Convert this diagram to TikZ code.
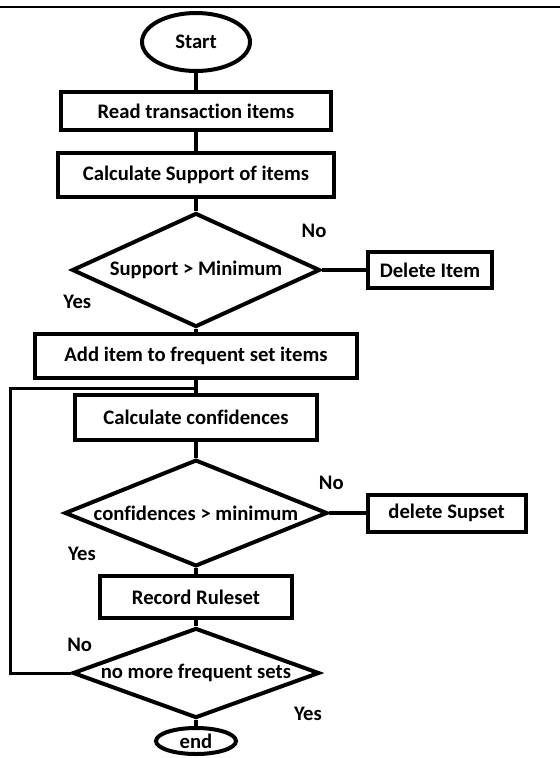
\documentclass[tikz,border=0pt]{standalone}
\usepackage{fontspec}
\setmainfont{Carlito}[Ligatures=NoCommon]
\usetikzlibrary{shapes.geometric, calc, positioning}

\begin{document}
\begin{tikzpicture}[node distance=48pt, x=1pt, y=1pt, font=\fontsize{15.5}{18}\selectfont\bfseries]
  % Define styles
  \tikzstyle{startstop} = [ellipse, draw=black, line width=3pt, inner sep=0pt, text centered]
  \tikzstyle{process} = [rectangle, draw=black, line width=3pt, inner sep=0pt, text centered]
  \tikzstyle{decision} = [diamond, draw=black, line width=3pt, inner sep=0pt, text centered]
  \tikzstyle{line} = [draw, line width=3pt]
  \tikzstyle{loopline} = [draw, line width=2.25pt]

  % Frame
  \useasboundingbox (0,0) rectangle (420,-568.5);
  \draw [line width=2pt] (0,-5.25) -- (420,-5.25);

  % Place nodes
  \node [startstop, minimum width=81pt, minimum height=43.5pt] (start) at (147,-31.5) {Start};
  \node [process, below of=start, yshift=-3.75pt, minimum width=202.5pt, minimum height=28.5pt] (readitems) {Read transaction items};
  \node [process, below of=readitems, minimum width=207pt, minimum height=33pt] (calcsupport) {Calculate Support of items};
  \node [decision, below of=calcsupport, yshift=-23.25pt, minimum width=186pt, minimum height=85.5pt, aspect=2.2] (checksupport) {Support > Minimum};
  \node [process, right of=checksupport, node distance=175.5pt, minimum width=93pt, minimum height=27pt] (deleteitem) {Delete Item};
  \node [process, below of=checksupport, yshift=-16.5pt, minimum width=241.5pt, minimum height=33pt] (additem) {Add item to frequent set items};
  \node [process, below of=additem, yshift=2.25pt, minimum width=181.5pt, minimum height=33.75pt] (calcconf) {Calculate confidences};
  \node [decision, below of=calcconf, yshift=-24pt, minimum width=197pt, minimum height=80pt, aspect=2.5] (checkconf) {confidences > minimum};
  \node [process, right of=checkconf, node distance=188pt, minimum width=118.5pt, minimum height=27.75pt] (deletesupset) {delete Supset};
  \node [process, below of=checkconf, yshift=-15pt, minimum width=144pt, minimum height=32pt] (recordrules) {Record Ruleset};
  \node [decision, below of=recordrules, yshift=-9pt, minimum width=185pt, minimum height=67.5pt, aspect=2.7] (checkmore) {no more frequent sets};
  \node [startstop, below of=checkmore, yshift=-3pt, minimum width=60pt, minimum height=19.5pt] (finish) {end};

  % Draw edges
  \path [line] (start) -- (readitems);
  \path [line] (readitems) -- (calcsupport);
  \path [line] (calcsupport) -- (checksupport);
  \path [line] (checksupport) -- node[pos=0, xshift=-6pt, yshift=29.25pt] {No} (deleteitem);
  \path [line] (checksupport) -- node[pos=0, xshift=-89pt, yshift=20pt] {Yes} (additem);
  \path [line] (additem) -- (calcconf);
  \path [line] (calcconf) -- (checkconf);
  \path [line] (checkconf) -- node[pos=0, xshift=1.5pt, yshift=22.5pt] {No} (deletesupset);
  \path [line] (checkconf) -- node[pos=0, xshift=-85.5pt, yshift=10.5pt] {Yes} (recordrules);
  \path [line] (recordrules) -- (checkmore);
  \path [line] (checkmore) -- node[pos=0, xshift=84pt, yshift=4.5pt] {Yes} (finish);

  % Loop back
  \coordinate (loopcorner) at (7.5,-291);
  \coordinate (loopjoin) at (additem.south |- loopcorner);
  \path [loopline] (checkmore.west) -| node[pos=0, xshift=6.75pt, yshift=21pt] {No} (loopcorner) -- (loopjoin);

\end{tikzpicture}
\end{document}
